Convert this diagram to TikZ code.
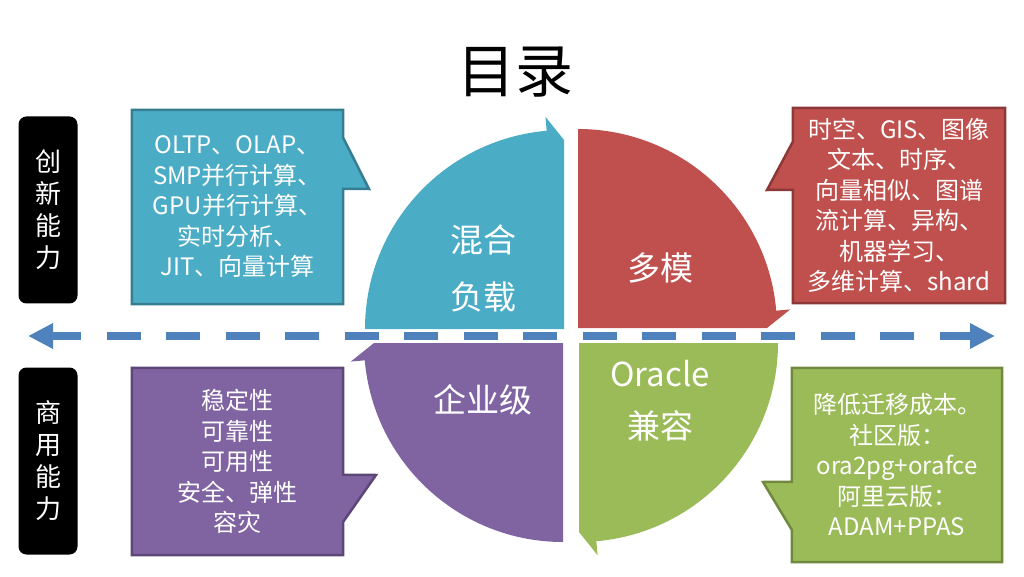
\documentclass[tikz,border=0pt]{standalone}
\usepackage{fontspec}
\setmainfont{Noto Sans CJK SC}
\usepackage{xcolor}
\usepackage{tikz}
\usetikzlibrary{positioning, arrows.meta, calc, backgrounds}
\definecolor{accblue}{HTML}{4BACC6}
\definecolor{accblueline}{HTML}{357D91}
\definecolor{accred}{HTML}{C0504D}
\definecolor{accredline}{HTML}{8C3836}
\definecolor{accpurple}{HTML}{8064A2}
\definecolor{accpurpleline}{HTML}{5C4776}
\definecolor{accgreen}{HTML}{9BBB59}
\definecolor{accgreenline}{HTML}{71893F}
\definecolor{axisblue}{HTML}{4F81BD}

\begin{document}
\begin{tikzpicture}[x=1pt, y=1pt,
    quadtext/.style={text=white, align=center, inner sep=0pt, font=\fontsize{33}{57}\selectfont},
    sidebox/.style={fill=black, rounded corners=8pt, minimum width=59pt, minimum height=187pt,
      text=white, align=center, font=\fontsize{26}{32}\selectfont},
    notebox/.style={text=white, align=center, inner sep=0pt, font=\fontsize{24}{30.5}\selectfont},
    noteline/.style={line width=2.5pt, line join=miter}]
  \useasboundingbox (0,0) rectangle (1024,576);

  \node (title) at (515,504) {\fontsize{58}{60}\selectfont 目录};

  \coordinate (hybrid) at (564,247);
  \coordinate (multi) at (578,248);
  \coordinate (oracle) at (579,233);
  \coordinate (enterprise) at (563,233);
  \foreach \c/\a/\col in {hybrid/180/accblue, multi/90/accred, oracle/0/accgreen, enterprise/270/accpurple}
    \fill[\col] (\c) -- ($(\c)+(\a:199pt)$) arc[start angle=\a, end angle=\a-85, radius=199pt]
      -- ($(\c)+(\a-85:213pt)$) -- ($(\c)+(\a-90:189pt)$) -- cycle;

  \node[quadtext] (hybridtxt) at (483,308) {混合\\负载};
  \node[quadtext] (multitxt) at (660,308) {多模};
  \node[quadtext] (enterprisetxt) at (483,176) {企业级};
  \node[quadtext, font=\fontsize{33}{52}\selectfont] (oracletxt) at (660,175) {Oracle\\兼容};

  \coordinate (axisw) at (28,240);
  \coordinate (axise) at (995,240);
  \draw[axisblue, line width=8pt, dash pattern=on 34pt off 25.5pt, dash phase=4pt,
    {Triangle[length=25pt, width=24pt]}-{Triangle[length=25pt, width=24pt]}] (axisw) -- (axise);

  \node[sidebox] (innovate) at (48,366) {创\\新\\能\\力};
  \node[sidebox] (commerce) at (48,115) {商\\用\\能\\力};

  \node[notebox, minimum width=211pt, minimum height=194pt] (hybridnote) at (237.5,369)
    {OLTP、OLAP、\\SMP并行计算、\\GPU并行计算、\\实时分析、\\JIT、向量计算};
  \node[notebox, minimum width=212pt, minimum height=195pt] (multinote) at (899,370.5)
    {时空、GIS、图像\\文本、时序、\\向量相似、图谱\\流计算、异构、\\机器学习、\\多维计算、shard};
  \node[notebox, minimum width=211pt, minimum height=187pt] (enterprisenote) at (237.5,114.5)
    {稳定性\\可靠性\\可用性\\安全、弹性\\容灾};
  \node[notebox, minimum width=210pt, minimum height=194pt] (oraclenote) at (897,111)
    {降低迁移成本。\\社区版：\\ora2pg+orafce\\阿里云版：\\ADAM+PPAS};

  \coordinate (hybridtip) at (369,387);
  \coordinate (multitip) at (767,386);
  \coordinate (enterprisetip) at (376,101);
  \coordinate (oracletip) at (763,94);

  \begin{scope}[on background layer]
    \filldraw[noteline, fill=accblue, draw=accblueline] (hybridnote.north west) -- (hybridnote.north east)
      -- ($(hybridnote.north east)+(0,-28)$) -- (hybridtip) -- ($(hybridnote.north east)+(0,-79)$)
      -- (hybridnote.south east) -- (hybridnote.south west) -- cycle;
    \filldraw[noteline, fill=accred, draw=accredline] (multinote.north east) -- (multinote.north west)
      -- ($(multinote.north west)+(0,-34)$) -- (multitip) -- ($(multinote.north west)+(0,-82)$)
      -- (multinote.south west) -- (multinote.south east) -- cycle;
    \filldraw[noteline, fill=accpurple, draw=accpurpleline] (enterprisenote.north west) -- (enterprisenote.north east)
      -- ($(enterprisenote.north east)+(0,-107)$) -- (enterprisetip) -- ($(enterprisenote.north east)+(0,-154)$)
      -- (enterprisenote.south east) -- (enterprisenote.south west) -- cycle;
    \filldraw[noteline, fill=accgreen, draw=accgreenline] (oraclenote.north east) -- (oraclenote.north west)
      -- ($(oraclenote.north west)+(0,-114)$) -- (oracletip) -- ($(oraclenote.north west)+(0,-162)$)
      -- (oraclenote.south west) -- (oraclenote.south east) -- cycle;
  \end{scope}
\end{tikzpicture}
\end{document}
